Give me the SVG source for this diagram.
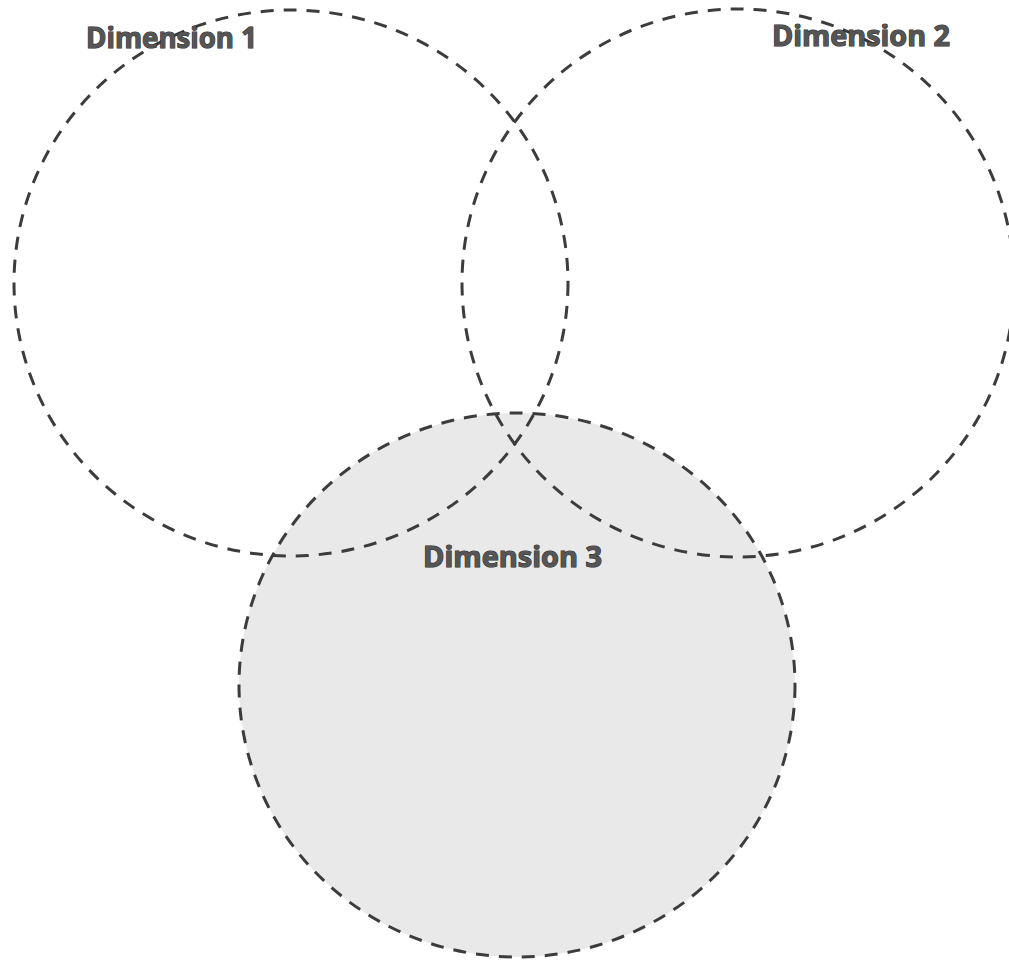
<svg xmlns="http://www.w3.org/2000/svg" width="1009" height="962" viewBox="0 0 1009 962">
<style>
.ring{fill:none;stroke:#3c3c3c;stroke-width:3;stroke-dasharray:13 10}
.lbl{font-family:"Open Sans","Liberation Sans",sans-serif;font-weight:bold;font-size:28px;fill:#555555;stroke:#2a2a2a;stroke-width:1.1;paint-order:stroke}
</style>
<rect width="1009" height="962" fill="#ffffff"/>
<g id="dim3-fill">
<ellipse cx="517" cy="685" rx="278" ry="272" fill="#e9e9e9"/>
</g>
<g id="dim1">
<ellipse class="ring" cx="291" cy="283" rx="277" ry="273"/>
<text class="lbl" x="86" y="48" textLength="171" lengthAdjust="spacingAndGlyphs">Dimension 1</text>
</g>
<g id="dim2">
<ellipse class="ring" cx="738" cy="283" rx="276" ry="274"/>
<text class="lbl" x="772" y="46" textLength="178" lengthAdjust="spacingAndGlyphs">Dimension 2</text>
</g>
<g id="dim3">
<ellipse class="ring" cx="517" cy="685" rx="278" ry="272"/>
<text class="lbl" x="423" y="567" textLength="179" lengthAdjust="spacingAndGlyphs">Dimension 3</text>
</g>
</svg>
